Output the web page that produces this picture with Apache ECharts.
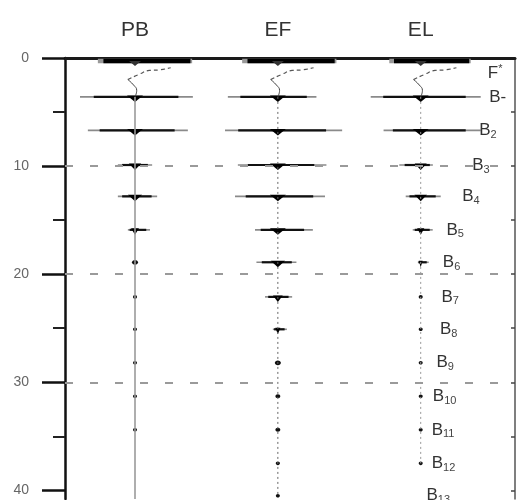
<!DOCTYPE html>
<html><head><meta charset="utf-8">
<script src="https://cdn.jsdelivr.net/npm/echarts@6/dist/echarts.min.js"></script>
<style>html,body{margin:0;padding:0;background:#fff}#c{width:518px;height:500px}</style>
</head><body><div id="c"></div>
<script>
// ---- data ----
const columns = ['PB', 'EF', 'EL'];
const topLevel = 0.28;
const fLevel = 1.4;
const levels = [3.6, 6.7, 9.9, 12.8, 15.9, 18.9, 22.1, 25.1, 28.2, 31.3, 34.4, 37.5, 40.5];
const levelMain = ['B-', 'B', 'B', 'B', 'B', 'B', 'B', 'B', 'B', 'B', 'B', 'B', 'B'];
const levelSub  = ['', '2', '3', '4', '5', '6', '7', '8', '9', '10', '11', '12', '13'];
const yTicks = [0, 10, 20, 30, 40];
const yMinorTicks = [5, 15, 25, 35];
const rightTicks = [5, 10, 15, 20, 25, 30, 35, 40];
const gridLevels = [10, 20, 30];
// line extents (in column-spacing units), index 0 = top line, then B..B13
const pbLeft  = [0.26, 0.385, 0.33, 0.12, 0.12, 0.05, 0.02, 0.014, 0.012, 0.01, 0.008, 0.006, 0, 0];
const pbRight = [0.40, 0.405, 0.37, 0.12, 0.155, 0.105, 0.035, 0.014, 0.012, 0.01, 0.008, 0.006, 0, 0];
const efLeft  = [0.25, 0.35, 0.37, 0.28, 0.30, 0.16, 0.15, 0.09, 0.035, 0.025, 0.02, 0.02, 0.018, 0.015];
const efRight = [0.41, 0.27, 0.45, 0.34, 0.33, 0.245, 0.13, 0.10, 0.063, 0.03, 0.025, 0.025, 0.02, 0.015];
const elLeft  = [0.22, 0.35, 0.26, 0.15, 0.105, 0.056, 0.02, 0.014, 0.012, 0.01, 0.008, 0.005, 0.005, 0];
const elRight = [0.35, 0.42, 0.42, 0.085, 0.14, 0.084, 0.056, 0.014, 0.012, 0.01, 0.008, 0.005, 0.005, 0];
// end of the vertical trace in each column
const traceEnd = [40.8, 40.6, 37.5];
// wavy trace from the B line up to the F* region (offsets from column centre)
const curveSolidDx = [0, 0.012, -0.01, -0.05];
const curveSolidY  = [3.6, 3.0, 2.5, 2.0];
const curveDashDx  = [-0.05, 0.03, 0.1, 0.17, 0.25];
const curveDashY   = [2.0, 1.5, 1.15, 1.1, 0.9];

// ---- layout ----
const labelDx = [0.47, 0.48, 0.41, 0.36, 0.29, 0.18, 0.155, 0.145, 0.135, 0.11, 0.085, 0.077, 0.077, 0.04];
const FONT = 'Liberation Sans, Arial, sans-serif';

const extents = [[pbLeft, pbRight], [efLeft, efRight], [elLeft, elRight]];
const allLevels = [topLevel].concat(levels);

function barData(ci) {
  return allLevels.map((lv, i) => [ci + 1, lv, extents[ci][0][i], extents[ci][1][i], i === 0 ? 1 : 0]);
}

function renderBar(params, api) {
  const c = api.value(0), y = api.value(1), l = api.value(2), r = api.value(3), top = api.value(4);
  const pc = api.coord([c, y]);
  const pl = api.coord([c - l, y]);
  const pr = api.coord([c + r, y]);
  const w = pr[0] - pl[0];
  const ch = [];
  if (top) {
    ch.push({type: 'line', shape: {x1: pl[0], y1: pc[1], x2: pr[0], y2: pc[1]}, style: {stroke: '#999', lineWidth: 4.5}});
    const il = api.coord([c - l * 0.85, y]), ir = api.coord([c + r * 0.97, y]);
    ch.push({type: 'line', shape: {x1: il[0], y1: pc[1], x2: ir[0], y2: pc[1]}, style: {stroke: '#000', lineWidth: 4.5}});
    ch.push({type: 'polygon', shape: {points: [[pc[0] - 6, pc[1]], [pc[0] + 6, pc[1]], [pc[0], pc[1] + 5]]}, style: {fill: '#333'}});
  } else if (w <= 0) {
    return null;
  } else if (w < 10) {
    ch.push({type: 'ellipse', shape: {cx: pc[0], cy: pc[1], rx: Math.max(2, w / 2.6), ry: Math.max(1.8, Math.min(2.4, w / 3.2))}, style: {fill: '#111'}});
  } else {
    ch.push({type: 'line', shape: {x1: pl[0], y1: pc[1], x2: pr[0], y2: pc[1]}, style: {stroke: '#8a8a8a', lineWidth: 1.6}});
    const il = api.coord([c - l * 0.75, y]), ir = api.coord([c + r * 0.75, y]);
    ch.push({type: 'line', shape: {x1: il[0], y1: pc[1], x2: ir[0], y2: pc[1]}, style: {stroke: '#111', lineWidth: 2.2}});
    const bw = Math.min(8, w * 0.18);
    ch.push({type: 'polygon', shape: {points: [[pc[0] - bw, pc[1] - 1.5], [pc[0] + bw, pc[1] - 1.5], [pc[0], pc[1] + 5]]}, style: {fill: '#000'}});
  }
  return {type: 'group', children: ch};
}

const series = [];
// grid dashed lines
series.push({
  type: 'line', data: [], silent: true,
  markLine: {
    symbol: 'none', silent: true, label: {show: false},
    lineStyle: {color: '#9a9a9a', width: 2, type: [8, 17]},
    data: gridLevels.map(v => ({yAxis: v}))
  }
});
// vertical traces
columns.forEach((name, ci) => {
  series.push({
    type: 'line', symbol: 'none', silent: true, animation: false,
    data: [[ci + 1, levels[0]], [ci + 1, traceEnd[ci]]],
    lineStyle: ci === 0 ? {color: '#9a9a9a', width: 1.6} : {color: ci === 1 ? '#666' : '#999', width: 1, type: [2, 3]}
  });
  series.push({
    type: 'line', symbol: 'none', smooth: 0.5, silent: true,
    data: curveSolidDx.map((d, i) => [ci + 1 + d, curveSolidY[i]]),
    lineStyle: {color: '#444', width: 1}
  });
  series.push({
    type: 'line', symbol: 'none', smooth: 0.5, silent: true,
    data: curveDashDx.map((d, i) => [ci + 1 + d, curveDashY[i]]),
    lineStyle: {color: '#555', width: 1.2, type: [4, 3]}
  });
});
// spectral lines
columns.forEach((name, ci) => {
  series.push({
    type: 'custom', silent: true, clip: false,
    renderItem: renderBar,
    data: barData(ci)
  });
});
// level labels
const labelData = [[3 + labelDx[0], fLevel, -1]].concat(levels.map((lv, i) => [3 + labelDx[i + 1], lv, i]));
series.push({
  type: 'custom', silent: true, clip: false,
  data: labelData,
  renderItem: function (params, api) {
    const idx = api.value(2);
    const p = api.coord([api.value(0), api.value(1)]);
    let text;
    if (idx < 0) text = '{m|F}{p|*}';
    else text = '{m|' + levelMain[idx] + '}' + (levelSub[idx] ? '{s|' + levelSub[idx] + '}' : '');
    return {
      type: 'text', x: p[0], y: p[1],
      style: {
        text: text, verticalAlign: 'middle', align: 'left',
        rich: {
          m: {fontSize: 17, fontFamily: FONT, fill: '#333', lineHeight: 20, verticalAlign: 'middle'},
          s: {fontSize: 11, fontFamily: FONT, fill: '#444', lineHeight: 8, verticalAlign: 'bottom'},
          p: {fontSize: 11, fontFamily: FONT, fill: '#444', lineHeight: 8, verticalAlign: 'top'}
        }
      }
    };
  }
});

const option = {
  animation: false,
  backgroundColor: '#fff',
  grid: {left: 65, right: 3, top: 58, bottom: 1},
  xAxis: [
    {type: 'value', min: 0.51, max: 3.66, position: 'bottom',
     axisLine: {show: true, lineStyle: {color: '#888', width: 1.5}},
     axisTick: {show: false}, axisLabel: {show: false}, splitLine: {show: false}},
    {type: 'value', min: 0.51, max: 3.66, position: 'top',
     axisLine: {show: true, lineStyle: {color: '#1a1a1a', width: 3}},
     axisTick: {show: false}, splitLine: {show: false},
     axisLabel: {show: true, customValues: [1, 2, 3], formatter: v => columns[Math.round(v) - 1] || '',
                 fontSize: 21, fontFamily: FONT, color: '#333', margin: 17}}
  ],
  yAxis: [
    {type: 'value', inverse: true, min: 0, max: 40.8, position: 'left',
     axisLine: {show: true, lineStyle: {color: '#111', width: 2.5}},
     axisTick: {show: true, customValues: yTicks, length: 23, lineStyle: {color: '#111', width: 2.5}},
     axisLabel: {show: true, customValues: yTicks, fontSize: 14, fontFamily: FONT, color: '#666', margin: 36},
     splitLine: {show: false}},
    {type: 'value', inverse: true, min: 0, max: 40.8, position: 'left',
     axisLine: {show: false},
     axisTick: {show: true, customValues: yMinorTicks, length: 12, lineStyle: {color: '#222', width: 2}},
     axisLabel: {show: false}, splitLine: {show: false}},
    {type: 'value', inverse: true, min: 0, max: 40.8, position: 'right',
     axisLine: {show: true, lineStyle: {color: '#555', width: 1.5}},
     axisTick: {show: true, inside: true, customValues: rightTicks, length: 4, lineStyle: {color: '#444', width: 1.5}},
     axisLabel: {show: false}, splitLine: {show: false}}
  ],
  series: series
};
const chart = echarts.init(document.getElementById('c'), null, {renderer: 'canvas'});
chart.setOption(option);
</script></body></html>
